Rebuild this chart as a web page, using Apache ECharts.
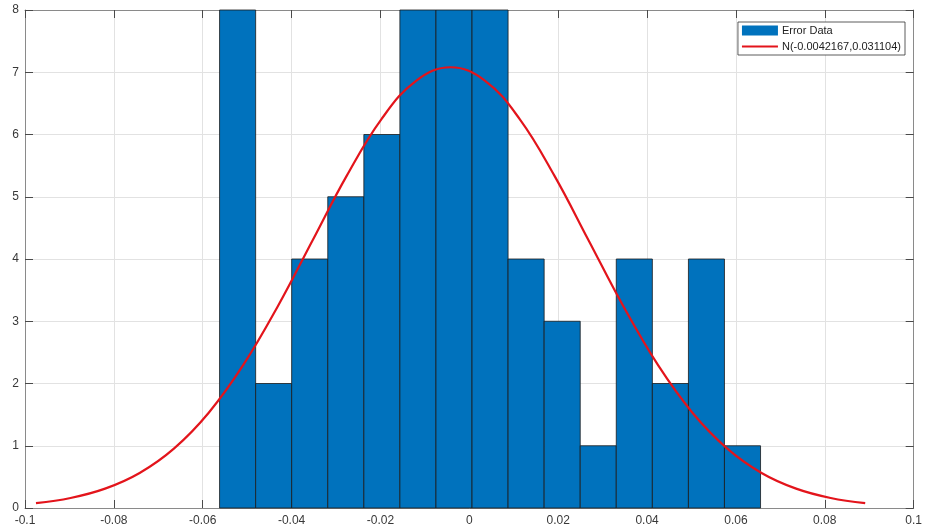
<!DOCTYPE html>
<html>
<head>
<meta charset="utf-8">
<script src="https://cdn.jsdelivr.net/npm/echarts@6/dist/echarts.min.js"></script>
<style>html,body{margin:0;padding:0;background:#fff}#c{width:925px;height:531px}</style>
</head>
<body>
<div id="c"></div>
<script>
// Histogram bin edges
const binEdges = [-0.05621, -0.04809, -0.03998, -0.03186, -0.02374, -0.01563, -0.00751, 0.00061,
  0.00872, 0.01684, 0.02496, 0.03307, 0.04119, 0.04931, 0.05742, 0.06554];
// Counts per bin
const counts = [8, 2, 4, 5, 6, 8, 8, 8, 4, 3, 1, 4, 2, 4, 1];
// Fitted normal curve points (x, y)
const curveX = [-0.097529, -0.089753, -0.081977, -0.074201, -0.066425, -0.058649, -0.050873, -0.043097,
  -0.035321, -0.027545, -0.019769, -0.011993, -0.004217, 0.003559, 0.011335, 0.019111, 0.026887,
  0.034663, 0.042439, 0.050215, 0.057991, 0.065767, 0.073543, 0.081319, 0.089095];
const curveY = [0.079, 0.161, 0.311, 0.563, 0.958, 1.531, 2.298, 3.241, 4.294, 5.344, 6.248, 6.862,
  7.080, 6.862, 6.248, 5.344, 4.294, 3.241, 2.298, 1.531, 0.958, 0.563, 0.311, 0.161, 0.079];
const seriesNames = ['Error Data', 'N(-0.0042167,0.031104)'];

const histData = counts.map((c, i) => [binEdges[i], binEdges[i + 1], c]);
const curveData = curveX.map((x, i) => [x, curveY[i]]);

const font = "'Liberation Sans', Arial, Helvetica, sans-serif";
const axisCol = '#8a8a8a';
const gridCol = '#e2e2e2';
const labelCol = '#383838';
const tickStyle = {show: true, inside: true, length: 8, lineStyle: {color: '#4a4a4a', width: 1}};

const chart = echarts.init(document.getElementById('c'), null, {renderer: 'canvas'});
const xBase = {type: 'value', min: -0.1, max: 0.1, interval: 0.02};
const yBase = {type: 'value', min: 0, max: 8, interval: 1};
chart.setOption({
  animation: false,
  backgroundColor: '#ffffff',
  grid: {left: 25, right: 8, top: 10, bottom: 23, containLabel: false},
  xAxis: [
    Object.assign({}, xBase, {
      position: 'bottom',
      axisLine: {show: true, onZero: false, lineStyle: {color: axisCol, width: 1}},
      axisTick: tickStyle,
      axisLabel: {color: labelCol, fontFamily: font, fontSize: 12, margin: 7},
      splitLine: {show: true, lineStyle: {color: gridCol, width: 1}}
    }),
    Object.assign({}, xBase, {
      position: 'top',
      axisLine: {show: true, onZero: false, lineStyle: {color: axisCol, width: 1}},
      axisTick: tickStyle,
      axisLabel: {show: false},
      splitLine: {show: false}
    })
  ],
  yAxis: [
    Object.assign({}, yBase, {
      position: 'left',
      axisLine: {show: true, onZero: false, lineStyle: {color: axisCol, width: 1}},
      axisTick: tickStyle,
      axisLabel: {color: labelCol, fontFamily: font, fontSize: 12, margin: 6},
      splitLine: {show: true, lineStyle: {color: gridCol, width: 1}}
    }),
    Object.assign({}, yBase, {
      position: 'right',
      axisLine: {show: true, onZero: false, lineStyle: {color: axisCol, width: 1}},
      axisTick: tickStyle,
      axisLabel: {show: false},
      splitLine: {show: false}
    })
  ],
  legend: {
    orient: 'vertical',
    right: 20,
    top: 22,
    backgroundColor: '#ffffff',
    borderColor: '#333333',
    borderWidth: 0.8,
    borderRadius: 0,
    padding: [3, 4, 3, 3],
    itemWidth: 36,
    itemHeight: 10,
    itemGap: 5,
    textStyle: {fontFamily: font, fontSize: 11, color: '#222', padding: [0, 0, 0, -1]},
    data: [
      {name: seriesNames[0], icon: 'rect'},
      {name: seriesNames[1], itemStyle: {opacity: 0}}
    ]
  },
  series: [
    {
      name: seriesNames[0],
      type: 'custom',
      xAxisIndex: 0,
      yAxisIndex: 0,
      itemStyle: {color: '#0072BD'},
      encode: {x: [0, 1], y: 2},
      data: histData,
      renderItem: function (params, api) {
        const p0 = api.coord([api.value(0), api.value(2)]);
        const p1 = api.coord([api.value(1), 0]);
        const cs = params.coordSys;
        const shape = echarts.graphic.clipRectByRect(
          {x: p0[0], y: p0[1], width: p1[0] - p0[0], height: p1[1] - p0[1]},
          {x: cs.x, y: cs.y, width: cs.width, height: cs.height}
        );
        return shape && {
          type: 'rect',
          shape: shape,
          style: {fill: '#0072BD', stroke: '#1a1a1a', lineWidth: 0.8}
        };
      }
    },
    {
      name: seriesNames[1],
      type: 'line',
      xAxisIndex: 0,
      yAxisIndex: 0,
      data: curveData,
      smooth: 0.4,
      symbol: 'none',
      showSymbol: false,
      lineStyle: {color: '#E3141B', width: 2.2},
      itemStyle: {color: '#E3141B'},
      z: 5
    }
  ]
});
</script>
</body>
</html>
